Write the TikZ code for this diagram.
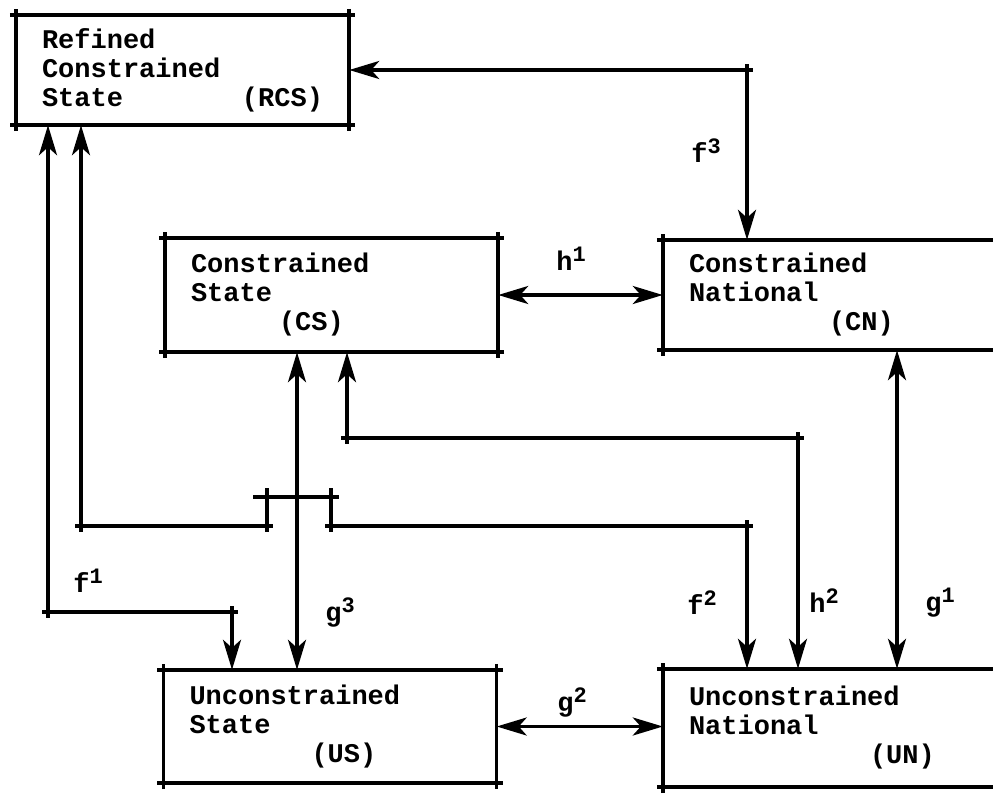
\documentclass[tikz,border=0pt]{standalone}
\usepackage{fontspec}
\usepackage{tikz}
\usetikzlibrary{arrows.meta}
\newfontfamily\plotfont{Liberation Mono}
\newcommand{\expo}[2]{#1\raisebox{9pt}{\fontsize{22}{24}\selectfont #2}}

\begin{document}
\begin{tikzpicture}[x=1pt, y=-1pt,
    >={Stealth[length=30pt, width=18pt, inset=8pt]},
    every node/.style={font=\plotfont\bfseries\fontsize{27}{29}\selectfont},
    statebox/.style={minimum width=333pt, inner xsep=26pt, inner ysep=0pt,
      text width=281pt, align=left,
      append after command={
        (\tikzlastnode.north west) edge[boxline] (\tikzlastnode.north east)
        (\tikzlastnode.north east) edge[boxline] (\tikzlastnode.south east)
        (\tikzlastnode.south east) edge[boxline] (\tikzlastnode.south west)
        (\tikzlastnode.south west) edge[boxline] (\tikzlastnode.north west)}},
    boxline/.style={line width=3.5pt, shorten <=-6pt, shorten >=-6pt},
    link/.style={line width=3.5pt, <->},
    tick/.style={line width=3.5pt}]
\useasboundingbox (0,0) rectangle (993,795);

% the five states
\node[statebox, minimum height=110pt] (rcs) at (182.5,70)
  {Refined\\Constrained\\State\hfill(RCS)};
\node[statebox, minimum height=114pt] (cs) at (331.5,295)
  {Constrained\\State\\\hspace*{88pt}(CS)};
\node[statebox, minimum height=110pt] (cn) at (829.5,295)
  {Constrained\\National\\\hspace*{140pt}(CN)};
\node[statebox, minimum height=113pt] (us) at (330,726.5)
  {Unconstrained\\State\\\hspace*{122pt}(US)};
\node[statebox, minimum height=118pt] (un) at (829.5,728)
  {Unconstrained\\National\\\hspace*{181pt}(UN)};

% bends of the links
\coordinate (f3c) at (747,70);
\coordinate (g3x) at (297,0);
\coordinate (g1x) at (897,0);
\coordinate (h2a) at (347,438);
\coordinate (h2b) at (798,438);
\coordinate (f1a) at (48,612);
\coordinate (f1b) at (232,612);
\coordinate (f2a) at (81,526);
\coordinate (f2b) at (267,526);
\coordinate (f2c) at (267,497);
\coordinate (f2d) at (331,497);
\coordinate (f2e) at (331,526);
\coordinate (f2f) at (747,526);

% links
\draw[link] (rcs.east) -- (f3c) -- (cn.north -| f3c);
\draw[link] (cs.east) -- (cn.west);
\draw[link] (us.east) -- (un.west |- us.east);
\draw[link] (cs.south -| g3x) -- (us.north -| g3x);
\draw[link] (cn.south -| g1x) -- (un.north -| g1x);
\draw[link] (cs.south -| h2a) -- (h2a) -- (h2b) -- (un.north -| h2b);
\draw[link] (rcs.south -| f1a) -- (f1a) -- (f1b) -- (us.north -| f1b);
\draw[link] (rcs.south -| f2a) -- (f2a) -- (f2b) -- (f2c) -- (f2d)
  -- (f2e) -- (f2f) -- (un.north -| f2f);

% plotter ticks at the bends
\foreach \c in {f3c,h2a,h2b,f1a,f1b,f2a,f2b,f2e,f2f}
  \draw[tick] (\c) +(-6,0) -- +(6,0) +(0,-6) -- +(0,6);
\draw[tick] (f2c) -- +(-14,0) (f2c) -- +(0,-9);
\draw[tick] (f2d) -- +(8,0) (f2d) -- +(0,-9);

% labels
\node (lf3) at (706,151) {\expo{f}{3}};
\node (lh1) at (571,259) {\expo{h}{1}};
\node (lf1) at (88,581) {\expo{f}{1}};
\node (lg3) at (340,612) {\expo{g}{3}};
\node (lf2) at (702,603) {\expo{f}{2}};
\node (lh2) at (824,601) {\expo{h}{2}};
\node (lg1) at (940,603) {\expo{g}{1}};
\node (lg2) at (572,702) {\expo{g}{2}};
\end{tikzpicture}
\end{document}
